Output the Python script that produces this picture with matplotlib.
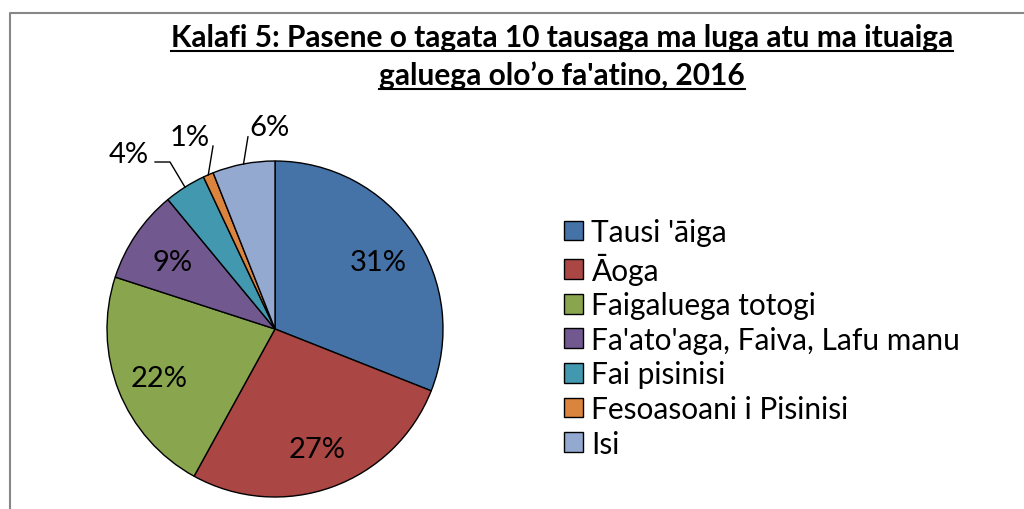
import matplotlib.pyplot as plt
import numpy as np
from matplotlib.lines import Line2D

plt.rcParams['font.family'] = ['Lato', 'DejaVu Sans']

title_lines = ["Kalafi 5: Pasene o tagata 10 tausaga ma luga atu ma ituaiga",
               "galuega olo’o fa'atino, 2016"]
categories = ["Tausi 'āiga", "Āoga", "Faigaluega totogi", "Fa'ato'aga, Faiva, Lafu manu",
              "Fai pisinisi", "Fesoasoani i Pisinisi", "Isi"]
shares = [31, 27, 22, 9, 4, 1, 6]
colors = ['#4572A7', '#AA4643', '#89A54E', '#71588F', '#4198AF', '#DB843D', '#93A9CF']

# small slices get labels outside with leader lines (positions in pie radius units)
outside_text = {4: (-0.87, 1.04), 5: (-0.51, 1.14), 6: (-0.03, 1.20)}
leader_start = {4: [(-0.714, 0.994), (-0.625, 0.994)], 5: [(-0.369, 1.089)], 6: [(-0.161, 1.144)]}

W, H = 1024, 510
fig = plt.figure(figsize=(W / 100, H / 100), dpi=100)

# chart border (left and top only visible)
fig.add_artist(Line2D([10 / W, 10 / W, 1.0], [0, 1 - 14 / H, 1 - 14 / H],
                      transform=fig.transFigure, color='#878787', lw=1.5))

# pie axes: centre (275, 330) px, radius 168 px
cx, cy, r = 275, 330, 168
ax = fig.add_axes([(cx - r) / W, (H - cy - r) / H, 2 * r / W, 2 * r / H])
wedges, _ = ax.pie(shares, colors=colors, startangle=90, counterclock=False,
                   wedgeprops=dict(edgecolor='black', linewidth=1.0))
ax.set_xlim(-1, 1)
ax.set_ylim(-1, 1)
ax.set_aspect('equal')
ax.axis('off')

for i, w in enumerate(wedges):
    mid = np.deg2rad((w.theta1 + w.theta2) / 2)
    txt = f"{shares[i]}%"
    if i in outside_text:
        tx, ty = outside_text[i]
        ax.text(tx, ty, txt, ha='center', va='center', fontsize=21, clip_on=False)
        pts = leader_start[i] + [(np.cos(mid), np.sin(mid))]
        ax.plot([p[0] for p in pts], [p[1] for p in pts], color='black', lw=1, clip_on=False)
    else:
        ax.text(0.74 * np.cos(mid), 0.74 * np.sin(mid) - 0.02, txt, ha='center', va='center', fontsize=21)

# title, two underlined lines
baselines = [47, 85]
titles = []
for line, base in zip(title_lines, baselines):
    titles.append(fig.text(562 / W, 1 - base / H, line, ha='center', va='baseline',
                           fontsize=21.5, fontweight='bold'))

fig.legend(wedges, categories, loc='upper left', bbox_to_anchor=(564 / W, 1 - 219 / H),
           frameon=False, fontsize=21.5, handlelength=0.64, handleheight=0.64,
           handletextpad=0.28, labelspacing=0.22, borderpad=0, borderaxespad=0)

fig.canvas.draw()
renderer = fig.canvas.get_renderer()
for t, base in zip(titles, baselines):
    bb = t.get_window_extent(renderer)
    yline = 1 - (base + 5) / H
    fig.add_artist(Line2D([bb.x0 / W, bb.x1 / W], [yline, yline],
                          transform=fig.transFigure, color='black', lw=1.5))

fig.savefig('out.png', dpi=100)
